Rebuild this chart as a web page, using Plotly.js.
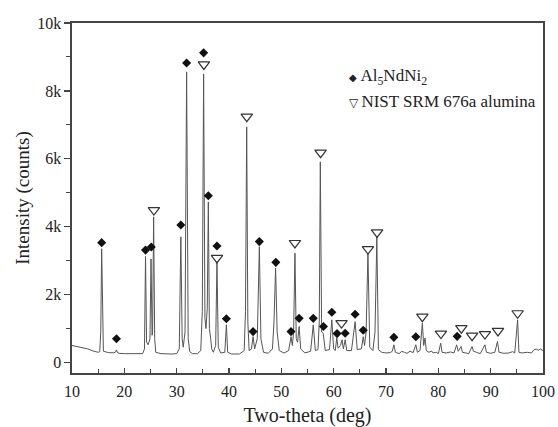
<!DOCTYPE html>
<html>
<head>
<meta charset="utf-8">
<script src="https://cdn.plot.ly/plotly-3.0.1.min.js"></script>
<style>
  html, body { margin: 0; padding: 0; background: #fff; }
  #chart { width: 558px; height: 427px; }
</style>
</head>
<body>
<div id="chart"></div>
<script>
// XRD pattern: profile vertices (two-theta in degrees, intensity in counts)
const twoTheta = [
  10, 11, 12, 13, 14, 15, 15.3, 15.5, 15.67, 15.85, 16.0, 17, 18, 18.35, 18.5, 18.65,
  19, 20, 22, 23.5, 23.85, 24.05, 24.25, 24.55, 24.9, 25.1, 25.3, 25.4, 25.6, 25.8, 26.0,
  27, 29, 30, 30.5, 30.8, 31.05, 31.25, 31.6, 31.9, 32.2, 32.5, 33, 34, 34.6, 34.9, 35.15,
  35.4, 35.6, 35.85, 36.05, 36.25, 36.5, 36.7, 37, 37.45, 37.7, 37.95, 38.4, 39.2, 39.5,
  39.75, 40.5, 42, 42.9, 43.15, 43.38, 43.6, 43.85, 44.3, 44.6, 44.9, 45.4, 45.8, 46.1,
  46.6, 47.5, 48.3, 48.6, 48.9, 49.2, 49.6, 50.5, 51.4, 51.85, 52.1, 52.35, 52.6, 52.85,
  53.1, 53.4, 53.7, 54.5, 55.6, 56.1, 56.5, 57.0, 57.25, 57.45, 57.7, 58.0, 58.4, 59.2,
  59.65, 60.0, 60.3, 60.6, 60.85, 61.3, 61.6, 61.85, 62.2, 62.5, 63.4, 64.1, 64.5, 65.3,
  65.65, 65.9, 66.2, 66.55, 66.9, 67.5, 67.9, 68.25, 68.55, 69.2, 70, 70.8, 71.2, 71.5,
  71.8, 72.5, 73.0, 73.5, 74, 74.6, 75.2, 75.7, 76.0, 76.5, 76.95, 77.2, 77.45, 77.7,
  78.2, 78.7, 79, 79.6, 80, 80.45, 80.7, 81.5, 82.3, 83.0, 83.5, 83.8, 84.35, 84.6, 85.2,
  85.8, 86.45, 86.7, 87.3, 88, 88.9, 89.2, 90, 90.8, 91.3, 91.6, 92.5, 93.5, 94.2, 94.6,
  95.15, 95.4, 96, 97, 97.8, 98.3, 98.7, 99.1, 99.5, 100
];
const counts = [
  500, 470, 440, 400, 340, 300, 320, 900, 3350, 900, 330, 290, 285, 310, 370, 300,
  270, 260, 250, 260, 400, 3120, 600, 520, 700, 3050, 800, 900, 4290, 700, 300,
  260, 250, 260, 400, 3700, 700, 450, 900, 8560, 700, 320, 260, 260, 350, 1500, 8500,
  1300, 1000, 1600, 4730, 1000, 700, 400, 300, 500, 2970, 450, 280, 300, 1110,
  300, 250, 250, 350, 1500, 6940, 1200, 350, 400, 760, 400, 700, 3410, 700,
  300, 270, 400, 1200, 2780, 900, 350, 280, 350, 760, 500, 900, 3220, 700,
  600, 1060, 400, 280, 330, 1110, 350, 380, 1200, 5910, 900, 860, 350, 380,
  1255, 400, 350, 720, 420, 500, 670, 400, 670, 350, 350, 1200, 380, 400,
  760, 500, 900, 3220, 450, 350, 900, 3690, 380, 300, 280, 290, 330, 520,
  300, 260, 330, 300, 270, 330, 290, 520, 300, 350, 1160, 500, 720, 350,
  300, 340, 280, 300, 260, 570, 300, 280, 310, 280, 520, 330, 470, 300, 290,
  260, 470, 330, 300, 260, 520, 300, 270, 300, 620, 300, 270, 280, 320, 280,
  1255, 300, 280, 300, 280, 380, 395, 360, 400, 350
];

// Phase markers: Al5NdNi2 reflections
const ndX = [15.67, 18.5, 24.05, 25.15, 30.8, 31.9, 35.15, 36.05, 37.7, 39.5, 44.6, 45.8,
  48.95, 51.85, 53.4, 56.1, 58.05, 59.65, 60.65, 62.2, 64.1, 65.65, 71.5, 75.7, 83.6];
const ndY = [3530, 700, 3310, 3400, 4050, 8820, 9120, 4910, 3430, 1290, 910, 3560,
  2950, 910, 1300, 1300, 1060, 1480, 850, 860, 1420, 950, 740, 760, 770];

// Phase markers: NIST SRM 676a alumina reflections
const alX = [25.65, 35.2, 37.7, 43.4, 52.6, 57.5, 61.5, 66.55, 68.3, 76.95, 80.5, 84.4,
  86.45, 88.9, 91.4, 95.15];
const alY = [4490, 8780, 3080, 7240, 3520, 6180, 1160, 3340, 3830, 1350, 850, 1010,
  790, 835, 930, 1450];

// Axis ticks
const yTickVals = [0, 2000, 4000, 6000, 8000, 10000];
const yTickText = ['0', '2k', '4k', '6k', '8k', '10k'];
const xTickVals = [10, 20, 30, 40, 50, 60, 70, 80, 90, 100];

const serif = 'Liberation Serif, Times New Roman, serif';

const traces = [
  {
    x: twoTheta, y: counts, type: 'scatter', mode: 'lines',
    line: { color: '#555', width: 1 },
    hoverinfo: 'x+y', showlegend: false
  },
  {
    x: ndX, y: ndY, type: 'scatter', mode: 'markers', name: 'Al5NdNi2',
    marker: { symbol: 'diamond', size: 7, color: '#111' },
    showlegend: false
  },
  {
    x: alX, y: alY, type: 'scatter', mode: 'markers', name: 'NIST SRM 676a alumina',
    marker: { symbol: 'triangle-down-open', size: 10, color: '#333', line: { width: 1.2, color: '#333' } },
    showlegend: false
  }
];

const layout = {
  width: 558, height: 427,
  margin: { l: 72, r: 15, t: 23, b: 54 },
  paper_bgcolor: '#fff', plot_bgcolor: '#fff',
  font: { family: serif, size: 16, color: '#222' },
  xaxis: {
    range: [10, 100],
    tickvals: xTickVals,
    ticks: 'inside', ticklen: 5, tickwidth: 1.2, tickcolor: '#444',
    ticklabelstandoff: 3,
    minor: { dtick: 5, ticks: 'inside', ticklen: 4, tickwidth: 1, tickcolor: '#444' },
    showline: true, mirror: true, linecolor: '#444', linewidth: 1.6,
    showgrid: false, zeroline: false,
    tickfont: { family: serif, size: 16, color: '#222' },
    title: { text: 'Two-theta (deg)', font: { family: serif, size: 20, color: '#222' }, standoff: 13 }
  },
  yaxis: {
    range: [-310, 10000],
    tickvals: yTickVals, ticktext: yTickText,
    ticks: 'outside', ticklen: 6, tickwidth: 1.2, tickcolor: '#444',
    minor: { dtick: 1000, tick0: 0, ticks: 'outside', ticklen: 4, tickwidth: 1, tickcolor: '#444' },
    showline: true, mirror: true, linecolor: '#444', linewidth: 1.6,
    showgrid: false, zeroline: false,
    tickfont: { family: serif, size: 16, color: '#222' },
    title: { text: 'Intensity (counts)', font: { family: serif, size: 19, color: '#222' }, standoff: 2 }
  },
  showlegend: false,
  annotations: [
    {
      xref: 'paper', yref: 'paper', x: 0.584, y: 0.845, xanchor: 'left', yanchor: 'middle',
      showarrow: false, align: 'left',
      text: "<span style='font-size:10px'>◆</span>\u2009Al<sub>5</sub>NdNi<sub>2</sub>",
      font: { family: serif, size: 17, color: '#222' }
    },
    {
      xref: 'paper', yref: 'paper', x: 0.584, y: 0.776, xanchor: 'left', yanchor: 'middle',
      showarrow: false, align: 'left',
      text: "<span style='font-size:12px'>▽</span>\u2009NIST SRM 676a alumina",
      font: { family: serif, size: 17, color: '#222' }
    }
  ]
};

Plotly.newPlot('chart', traces, layout, { staticPlot: true, displayModeBar: false });
</script>
</body>
</html>
